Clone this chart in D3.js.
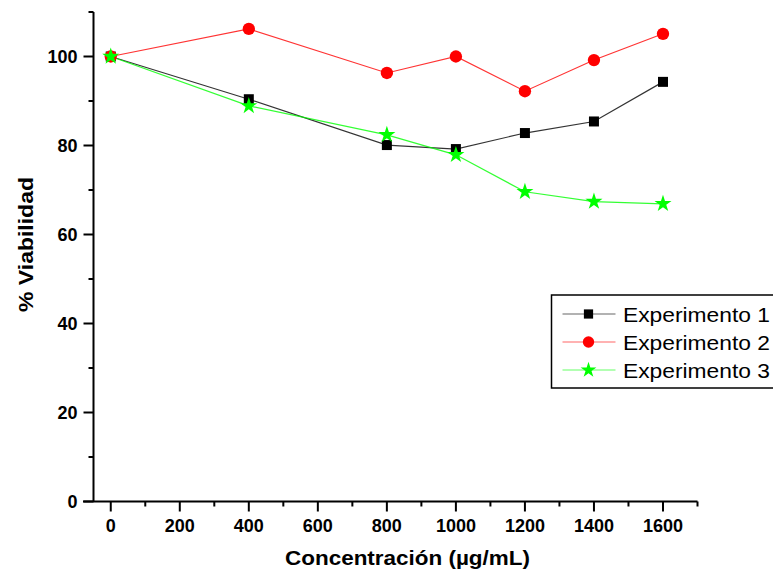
<!DOCTYPE html>
<html>
<head>
<meta charset="utf-8">
<script src="https://cdn.jsdelivr.net/npm/d3@7"></script>
<style>
  body { margin: 0; background: #fff; }
  svg { display: block; font-family: "Liberation Sans", Arial, sans-serif; }
</style>
</head>
<body>
<div id="chart"></div>
<script>
// data
const concentrations = [0, 400, 800, 1000, 1200, 1400, 1600];
const exp1 = [100, 90.4, 80.1, 79.2, 82.8, 85.4, 94.3];
const exp2 = [100, 106.2, 96.3, 100.0, 92.2, 99.2, 105.1];
const exp3 = [100, 88.9, 82.4, 77.9, 69.6, 67.4, 66.9];
const seriesNames = ["Experimento 1", "Experimento 2", "Experimento 3"];
const xTicks = [0, 200, 400, 600, 800, 1000, 1200, 1400, 1600];
const yTicks = [0, 20, 40, 60, 80, 100];

const width = 773, height = 571;

const series = [
  {name: seriesNames[0], values: exp1, color: "#000000", symbol: d3.symbolSquare, size: 100},
  {name: seriesNames[1], values: exp2, color: "#ff0000", symbol: d3.symbolCircle, size: 120},
  {name: seriesNames[2], values: exp3, color: "#00ff00", symbol: d3.symbolStar, size: 90}
];

const svg = d3.select("#chart").append("svg")
    .attr("width", width)
    .attr("height", height);

const x = d3.scaleLinear().domain([-50, 1700]).range([93.5, 697.5]);
const y = d3.scaleLinear().domain([0, 110]).range([501.5, 12]);

// x axis: major ticks + minor ticks
const xAxis = svg.append("g").attr("transform", "translate(0,501.5)");
xAxis.append("line")
    .attr("x1", 83).attr("x2", x(1700))
    .attr("stroke", "#000").attr("stroke-width", 2);
xAxis.selectAll(".maj").data(xTicks).enter().append("line")
    .attr("x1", d => x(d)).attr("x2", d => x(d))
    .attr("y1", 0).attr("y2", 10)
    .attr("stroke", "#000").attr("stroke-width", 2);
xAxis.selectAll(".min").data(d3.range(100, 1701, 200)).enter().append("line")
    .attr("x1", d => x(d)).attr("x2", d => x(d))
    .attr("y1", 0).attr("y2", 5)
    .attr("stroke", "#000").attr("stroke-width", 2);
xAxis.selectAll("text").data(xTicks).enter().append("text")
    .attr("x", d => x(d)).attr("y", 30.5)
    .attr("text-anchor", "middle")
    .attr("font-size", "18px").attr("font-weight", "bold")
    .text(d => d);

// y axis
const yAxis = svg.append("g").attr("transform", "translate(93.5,0)");
yAxis.append("line")
    .attr("y1", y(110)).attr("y2", y(0))
    .attr("stroke", "#000").attr("stroke-width", 2);
yAxis.selectAll(".maj").data(yTicks).enter().append("line")
    .attr("y1", d => y(d)).attr("y2", d => y(d))
    .attr("x1", -10).attr("x2", 0)
    .attr("stroke", "#000").attr("stroke-width", 2);
yAxis.selectAll(".min").data(d3.range(10, 111, 20)).enter().append("line")
    .attr("y1", d => y(d)).attr("y2", d => y(d))
    .attr("x1", -5).attr("x2", 0)
    .attr("stroke", "#000").attr("stroke-width", 2);
yAxis.selectAll("text").data(yTicks).enter().append("text")
    .attr("x", -16).attr("y", d => y(d))
    .attr("dy", "0.36em")
    .attr("text-anchor", "end")
    .attr("font-size", "18px").attr("font-weight", "bold")
    .text(d => d);

// axis titles (reference glyphs are a bit wider, so stretch to measured length)
svg.append("text")
    .attr("x", 285).attr("y", 565)
    .attr("textLength", 245).attr("lengthAdjust", "spacingAndGlyphs")
    .attr("font-size", "20px").attr("font-weight", "bold")
    .text("Concentración (µg/mL)");
svg.append("text")
    .attr("transform", "translate(32.5,312) rotate(-90)")
    .attr("textLength", 135).attr("lengthAdjust", "spacingAndGlyphs")
    .attr("font-size", "20px").attr("font-weight", "bold")
    .text("% Viabilidad");

// lines
const line = d3.line()
    .x((d, i) => x(concentrations[i]))
    .y(d => y(d));

series.forEach(s => {
  svg.append("path")
      .attr("d", line(s.values))
      .attr("fill", "none")
      .attr("stroke", s.color)
      .attr("stroke-width", 1.2)
      .attr("stroke-opacity", 0.8);
});
series.forEach(s => {
  svg.append("g").selectAll("path").data(s.values).enter().append("path")
      .attr("transform", (d, i) => `translate(${x(concentrations[i])},${y(d)})`)
      .attr("d", d3.symbol().type(s.symbol).size(s.size))
      .attr("fill", s.color);
});

// legend
const legend = svg.append("g").attr("transform", "translate(551.5,295)");
legend.append("rect")
    .attr("width", 240).attr("height", 93)
    .attr("fill", "#fff")
    .attr("stroke", "#000").attr("stroke-width", 1.5);
const items = legend.selectAll(".item").data(series).enter().append("g")
    .attr("transform", (d, i) => `translate(0,${19 + i * 28})`);
items.append("line")
    .attr("x1", 11).attr("x2", 64)
    .attr("stroke", d => d.color).attr("stroke-width", 1.2).attr("stroke-opacity", 0.6);
items.append("path")
    .attr("transform", "translate(37,0)")
    .attr("d", d => d3.symbol().type(d.symbol).size(d.size * 0.85)())
    .attr("fill", d => d.color);
items.append("text")
    .attr("x", 71.5).attr("y", 7.5)
    .attr("textLength", 147).attr("lengthAdjust", "spacingAndGlyphs")
    .attr("font-size", "19.5px")
    .text(d => d.name);
</script>
</body>
</html>
